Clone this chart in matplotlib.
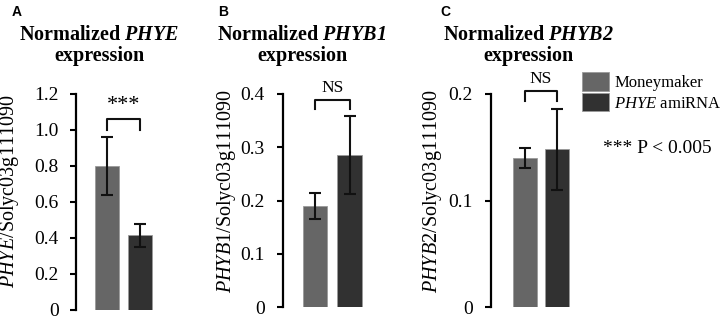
import matplotlib
matplotlib.use("Agg")
import matplotlib.pyplot as plt

# data
genes = ["PHYE", "PHYB1", "PHYB2"]
lines = ["Moneymaker", "PHYE amiRNA"]
means_a = [0.80, 0.415]
errs_a = [0.16, 0.065]
means_b = [0.19, 0.285]
errs_b = [0.025, 0.073]
means_c = [0.140, 0.148]
errs_c = [0.0095, 0.038]
yticks_a = [0, 0.2, 0.4, 0.6, 0.8, 1.0, 1.2]
ytick_labels_a = ["0", "0.2", "0.4", "0.6", "0.8", "1.0", "1.2"]
yticks_b = [0, 0.1, 0.2, 0.3, 0.4]
ytick_labels_b = ["0", "0.1", "0.2", "0.3", "0.4"]
yticks_c = [0, 0.1, 0.2]
ytick_labels_c = ["0", "0.1", "0.2"]
signif = ["***", "NS", "NS"]

plt.rcParams["mathtext.fontset"] = "custom"
plt.rcParams["mathtext.rm"] = "Liberation Serif"
plt.rcParams["mathtext.it"] = "Liberation Serif:italic"
plt.rcParams["mathtext.bf"] = "Liberation Serif:italic:bold"

serif = "Liberation Serif"
colors = ["#666666", "#313131"]

fig = plt.figure(figsize=(7.23, 3.21), dpi=100)
W, H = 723, 321

# (left px, bottom px, top px, xlim, ylim, data...)
panels = [
    (76, 310, 94, (-0.94, 2.1), (0, 1.2), means_a, errs_a, yticks_a, ytick_labels_a),
    (283, 307, 94, (-0.93, 1.97), (0, 0.4), means_b, errs_b, yticks_b, ytick_labels_b),
    (491, 307, 94, (-1.06, 2.06), (0, 0.2), means_c, errs_c, yticks_c, ytick_labels_c),
]
label_x = [10, 226, 433]
title_x = [99, 302, 528]
letter_x = [12, 218, 440]
letters = ["A", "B", "C"]
tick_pad = [8.5, 9, 9]

bars_for_legend = None
for i, (lpx, bpx, tpx, xl, yl, means, errs, ticks, tlabels) in enumerate(panels):
    ax = fig.add_axes([lpx / W, 1 - bpx / H, 100 / W, (bpx - tpx) / H])
    x = [0, 1]
    bars = ax.bar(x, means, width=0.72, color=colors, edgecolor="#9a9a9a",
                  linewidth=0.6, zorder=2)
    ax.errorbar(x, means, yerr=errs, fmt="none", ecolor="#111111",
                elinewidth=1.5, capsize=4.5, capthick=1.5, zorder=3)
    if bars_for_legend is None:
        bars_for_legend = bars
    ax.set_xlim(*xl)
    ax.set_ylim(*yl)
    for s in ["top", "right", "bottom"]:
        ax.spines[s].set_visible(False)
    ax.spines["left"].set_linewidth(1.6)
    ax.set_xticks([])
    ax.set_yticks(ticks)
    ax.set_yticklabels(tlabels, fontfamily=serif, fontsize=14)
    ax.tick_params(axis="y", length=4, width=1.5, pad=tick_pad[i])

    # significance bracket
    top = yl[1]
    ytop = [1.061, 0.389, 0.203][i]
    ybot = [1.0, 0.372, 0.193][i]
    ax.plot([0, 0, 1, 1], [ybot, ytop, ytop, ybot], color="#111111",
            lw=1.5, clip_on=False, zorder=3)
    if signif[i] == "***":
        ax.text(0.5, ytop + top * 0.018, signif[i], ha="center", va="bottom",
                fontfamily=serif, fontsize=16, clip_on=False)
    else:
        ax.text(0.5, ytop + top * 0.02, signif[i], ha="center", va="bottom",
                fontfamily=serif, fontsize=12.5, clip_on=False)

    ax.set_ylabel(r"$\it{%s}$/Solyc03g111090" % genes[i], fontfamily=serif,
                  fontsize=14.5, va="center")
    ax.yaxis.set_label_coords(label_x[i] / W, 0.405, transform=fig.transFigure)

    fig.text(title_x[i] / W, 1 - 35 / H, r"Normalized $\mathbf{%s}$" % genes[i],
             ha="center", va="center", fontfamily=serif, fontweight="bold",
             fontsize=14.5)
    fig.text(title_x[i] / W, 1 - 56 / H, "expression", ha="center", va="center",
             fontfamily=serif, fontweight="bold", fontsize=14.5)
    fig.text(letter_x[i] / W, 1 - 12 / H, letters[i], ha="left", va="center",
             fontfamily="Liberation Sans", fontweight="bold", fontsize=10)

leg = fig.legend(bars_for_legend, ["Moneymaker", r"$\it{PHYE}$ amiRNA"],
                 loc="upper left", bbox_to_anchor=(582 / W, 1 - 72 / H),
                 frameon=False, prop={"family": serif, "size": 12},
                 handlelength=1.6, handleheight=1.35, labelspacing=0.1,
                 handletextpad=0.35, borderpad=0, borderaxespad=0)

fig.text(657 / W, 1 - 148 / H, "*** P < 0.005", ha="center", va="center",
         fontfamily=serif, fontsize=14)

fig.savefig("out.png", dpi=100)
